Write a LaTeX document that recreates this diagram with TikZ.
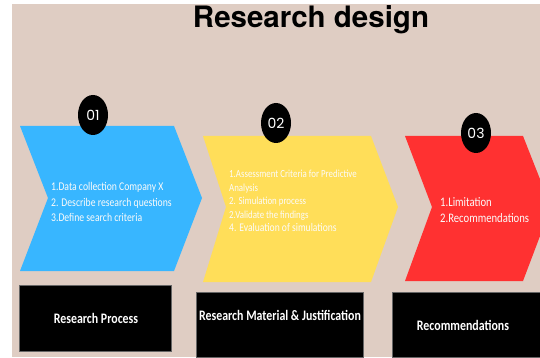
\documentclass[tikz,border=0pt]{standalone}
\usepackage{fontspec}
\setmainfont{Carlito}
\newfontfamily\condfont{Carlito}[FakeStretch=0.82]
\newfontfamily\titrefont{TeX Gyre Heros}
\newfontfamily\numfont{Poppins}
\usetikzlibrary{shapes.geometric}

\definecolor{fond}{HTML}{DFCDC3}
\definecolor{bleu}{HTML}{38B6FF}
\definecolor{jaune}{HTML}{FFDE59}
\definecolor{rouge}{HTML}{FF3131}

\begin{document}
\begin{tikzpicture}[x=1pt, y=-1pt,
    num/.style={ellipse, fill=black, text=white, minimum width=30pt, minimum height=40pt, inner sep=0pt, font=\numfont\fontsize{14}{14}\selectfont},
    boite/.style={fill=black, draw=black!60, line width=0.4pt, inner sep=0pt},
    etiq/.style={text=white, font=\condfont\bfseries\fontsize{14.5}{15}\selectfont},
    liste/.style={text=white!92!fond, align=left, anchor=west, inner sep=0pt}]

    \useasboundingbox (0,0) rectangle (540,358);

    % Fond
    \fill[fond] (12,4) rectangle (540,357);
    \node[font=\titrefont\bfseries\fontsize{29.5}{30}\selectfont] (titre) at (311,20) {Research design};

    % Chevrons
    \fill[bleu] (20,126) -- (174,126) -- (202,198) -- (174,271) -- (20,271) -- (48,198) -- cycle;
    \fill[jaune] (203,136) -- (371,136) -- (398,207) -- (371,282) -- (203,282) -- (226,207) -- cycle;
    \fill[rouge] (405,136) -- (523,136) -- (551,207) -- (523,281) -- (405,281) -- (432,207) -- cycle;

    % Pastilles
    \node[num] (n1) at (93,115) {01};
    \node[num] (n2) at (276,123) {02};
    \node[num] (n3) at (476,133) {03};

    % Textes
    \node[liste, font=\condfont\fontsize{11.8}{15.5}\selectfont] (t1) at (51,202) {1.Data collection Company X\\2. Describe research questions\\3.Define search criteria};
    \node[liste, font=\condfont\fontsize{10.8}{13.6}\selectfont] (t2) at (229,201) {1.Assessment Criteria for Predictive\\Analysis\\2. Simulation process\\2.Validate the findings\\{\fontsize{11.7}{13}\selectfont 4. Evaluation of simulations}};
    \node[liste, font=\condfont\fontsize{13}{16}\selectfont] (t3) at (440,210) {1.Limitation\\2.Recommendations};

    % Boites
    \node[boite, minimum width=152pt, minimum height=66pt] (b1) at (95,318) {};
    \node[boite, minimum width=167pt, minimum height=65pt] (b2) at (279.5,324.5) {};
    \node[boite, minimum width=160pt, minimum height=65pt] (b3) at (472,324.5) {};
    \node[etiq] (e1) at (96,318) {Research Process};
    \node[etiq] (e2) at (280,315) {Research Material \& Justification};
    \node[etiq] (e3) at (463,325) {Recommendations};

\end{tikzpicture}
\end{document}
